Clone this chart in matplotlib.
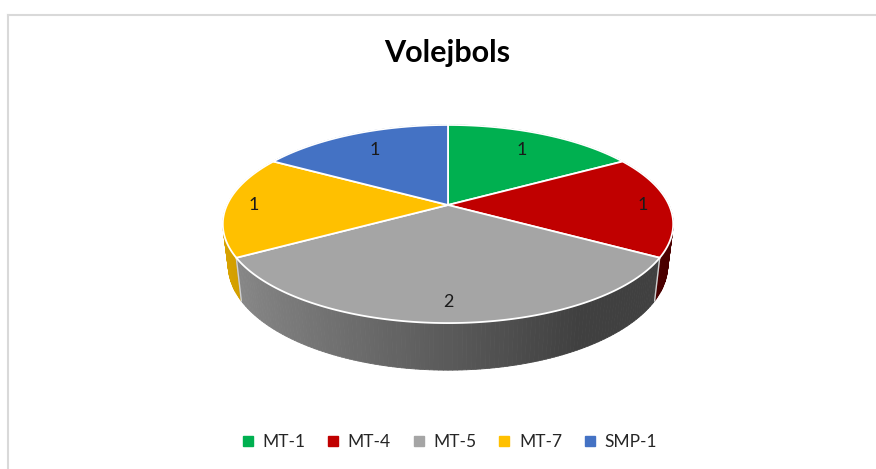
import numpy as np
import matplotlib
matplotlib.use("Agg")
import matplotlib.pyplot as plt
from matplotlib.patches import Polygon
from matplotlib.collections import PolyCollection
from matplotlib.lines import Line2D

# dati
categories = ["MT-1", "MT-4", "MT-5", "MT-7", "SMP-1"]
values = [1, 1, 2, 1, 1]
colors = ["#00b050", "#c00000", "#a5a5a5", "#ffc000", "#4472c4"]
title = "Volejbols"

plt.rcParams["font.family"] = ["Lato", "DejaVu Sans"]

W, H = 876, 469
fig = plt.figure(figsize=(W / 100, H / 100), dpi=100)
ax = fig.add_axes([0, 0, 1, 1])
ax.set_xlim(0, W)
ax.set_ylim(H, 0)
ax.axis("off")

# 3D pie geometry (pixel space)
cx, cy = 448, 205          # vertex of the slices
R, S, k = 221, 95.4, 0.192  # radius, depth scale, perspective
mx, my, h = 0.976, 1.06, 40  # bottom disk transform


def top_pt(theta, r=1.0):
    s, c = np.sin(theta) * r, np.cos(theta) * r
    w = 1 + k * c
    return cx + R * s / w, cy - S * c / w


def bot_pt(theta):
    s, c = np.sin(theta), np.cos(theta)
    w = 1 + k * c
    return cx + mx * R * s / w, cy - my * S * c / w + h


def shade(col, theta):
    g = max(64, 90 - 52.6 * np.sin(theta)) / 165.0
    rgb = np.array(matplotlib.colors.to_rgb(col)) * g
    return tuple(np.clip(rgb, 0, 1))


total = sum(values)
bounds = np.concatenate([[0], np.cumsum(values)]) / total * 2 * np.pi

# side wall, drawn back to front
quads, qcols, depth = [], [], []
for i, col in enumerate(colors):
    th = np.linspace(bounds[i], bounds[i + 1], int(values[i] * 60) + 1)
    for a, b in zip(th[:-1], th[1:]):
        quads.append([top_pt(a), top_pt(b), bot_pt(b), bot_pt(a)])
        m = 0.5 * (a + b)
        qcols.append(shade(col, m))
        depth.append(np.cos(m))
order = np.argsort(depth)[::-1]
side = PolyCollection([quads[j] for j in order],
                      facecolors=[qcols[j] for j in order],
                      edgecolors=[qcols[j] for j in order], linewidths=0.6)
ax.add_collection(side)

# light edges of the wall at slice boundaries in front
for b in bounds:
    if np.cos(b) < -0.2:
        p, q = top_pt(b), bot_pt(b)
        ax.plot([p[0], q[0]], [p[1], q[1]], color="#d0d0d0", lw=1, zorder=3)

# top faces
for i, col in enumerate(colors):
    th = np.linspace(bounds[i], bounds[i + 1], 200)
    pts = [(cx, cy)] + [top_pt(t) for t in th]
    ax.add_patch(Polygon(pts, closed=True, facecolor=col,
                         edgecolor="white", lw=1.3, zorder=4))

# data labels
label_r = [0.75, 0.88, 0.85, 0.88, 0.75]
for i, v in enumerate(values):
    mid = 0.5 * (bounds[i] + bounds[i + 1])
    x, y = top_pt(mid, label_r[i])
    ax.text(x, y, str(v), ha="center", va="center", fontsize=13,
            color="#1a1a1a", zorder=5)

# title
fig.text(0.51, 1 - 53 / H, title, ha="center", va="center",
         fontsize=22, fontweight="bold", color="#000000")

# chart frame (cropped on the right and bottom)
ax.plot([8, W], [15, 15], color="#d9d9d9", lw=1.5)
ax.plot([8, 8], [15, H], color="#d9d9d9", lw=1.5)

# legend
handles = [Line2D([], [], marker="s", ls="none", markersize=6.5,
                  markerfacecolor=c, markeredgecolor=c) for c in colors]
fig.legend(handles, categories, loc="center", ncol=5,
           bbox_to_anchor=(0.513, 1 - 442 / H), frameon=False,
           fontsize=12.5, handlelength=0.7, handletextpad=0.5,
           columnspacing=1.25, labelcolor="#262626")

fig.savefig("out.png", dpi=100)
